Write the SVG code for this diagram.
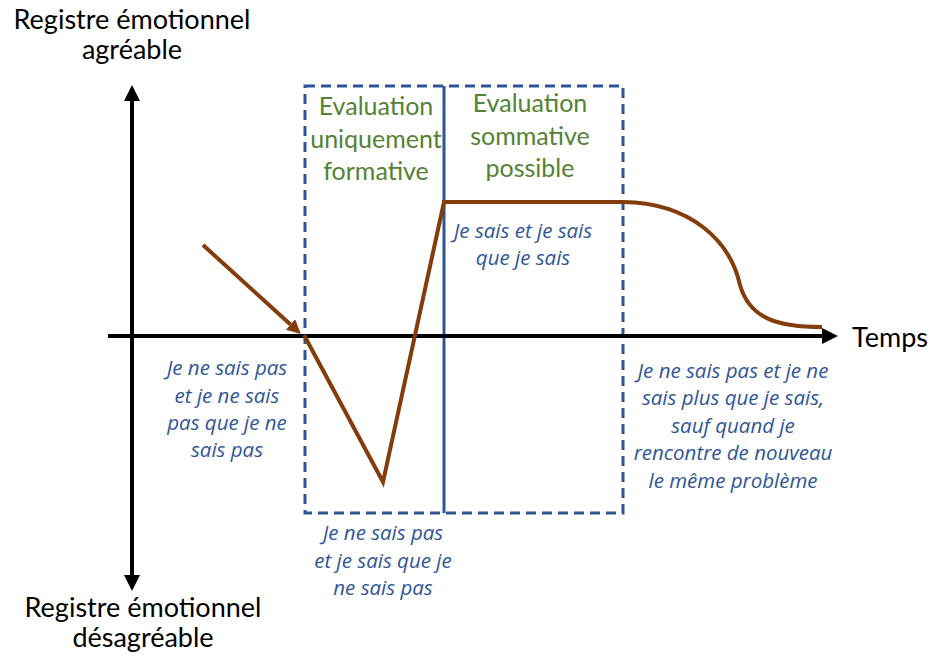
<svg xmlns="http://www.w3.org/2000/svg" width="930" height="659" viewBox="0 0 930 659">
<defs>
<marker id="ah" markerUnits="userSpaceOnUse" markerWidth="16" markerHeight="16" refX="0" refY="8" orient="auto" viewBox="0 0 16 16"><path d="M0,0 L16,8 L0,16 z" fill="#000"/></marker>
<marker id="bh" markerUnits="userSpaceOnUse" markerWidth="14" markerHeight="14" refX="0" refY="7" orient="auto" viewBox="0 0 14 14"><path d="M0,0 L14,7 L0,14 z" fill="#843C0C"/></marker>
</defs>
<style>
.ax{stroke:#000;stroke-width:4;fill:none}
.lbl{font-family:Lato,"Open Sans","Liberation Sans",sans-serif;font-size:27px;fill:#000;text-anchor:middle}
.grn{font-family:Lato,"Open Sans","Liberation Sans",sans-serif;font-size:25px;fill:#548235;text-anchor:middle}
.blu{font-family:"Open Sans",Lato,"Liberation Sans",sans-serif;font-size:20.5px;font-style:italic;fill:#2F5597;text-anchor:middle}
.box{stroke:#2F5597;stroke-width:3;fill:none;stroke-dasharray:10 6}
.crv{stroke:#843C0C;stroke-width:4;fill:none;stroke-linejoin:miter}
</style>
<rect width="930" height="659" fill="#fff"/>
<g id="zones">
<rect class="box" x="305" y="86" width="318" height="427"/>
<line x1="444" y1="86" x2="444" y2="513" stroke="#2F5597" stroke-width="3"/>
</g>
<g id="connectors">
<line class="ax" x1="108" y1="336" x2="822" y2="336" marker-end="url(#ah)"/>
<line class="ax" x1="132" y1="575" x2="132" y2="101" marker-end="url(#ah)"/>
<line class="ax" x1="132" y1="101" x2="132" y2="575" marker-end="url(#ah)"/>
<line class="crv" x1="203" y1="245" x2="290.5" y2="324.5" marker-end="url(#bh)"/>
<polyline class="crv" points="304,335 383,482 444,202 625,202"/>
<path class="crv" d="M623,202 C690,203 730,240 740,285 C750,320 780,327 822,327"/>
</g>
<g id="axis-labels">
<text class="lbl" x="132" y="29">Registre émotionnel</text>
<text class="lbl" x="132" y="59">agréable</text>
<text class="lbl" x="143" y="617">Registre émotionnel</text>
<text class="lbl" x="143" y="647">désagréable</text>
<text class="lbl" x="890" y="347">Temps</text>
</g>
<g id="zone-formative">
<text class="grn" x="376" y="115">Evaluation</text>
<text class="grn" x="376" y="148">uniquement</text>
<text class="grn" x="376" y="180">formative</text>
</g>
<g id="zone-sommative">
<text class="grn" x="530" y="112">Evaluation</text>
<text class="grn" x="530" y="145">sommative</text>
<text class="grn" x="530" y="177">possible</text>
</g>
<g id="stage1">
<text class="blu" x="227" y="375">Je ne sais pas</text>
<text class="blu" x="227" y="403">et je ne sais</text>
<text class="blu" x="227" y="430">pas que je ne</text>
<text class="blu" x="227" y="457">sais pas</text>
</g>
<g id="stage2">
<text class="blu" x="383" y="540">Je ne sais pas</text>
<text class="blu" x="383" y="568">et je sais que je</text>
<text class="blu" x="383" y="595">ne sais pas</text>
</g>
<g id="stage3">
<text class="blu" x="523" y="238">Je sais et je sais</text>
<text class="blu" x="523" y="265">que je sais</text>
</g>
<g id="stage4">
<text class="blu" x="733" y="378">Je ne sais pas et je ne</text>
<text class="blu" x="733" y="405">sais plus que je sais,</text>
<text class="blu" x="733" y="433">sauf quand je</text>
<text class="blu" x="733" y="460">rencontre de nouveau</text>
<text class="blu" x="733" y="488">le même problème</text>
</g>
</svg>
